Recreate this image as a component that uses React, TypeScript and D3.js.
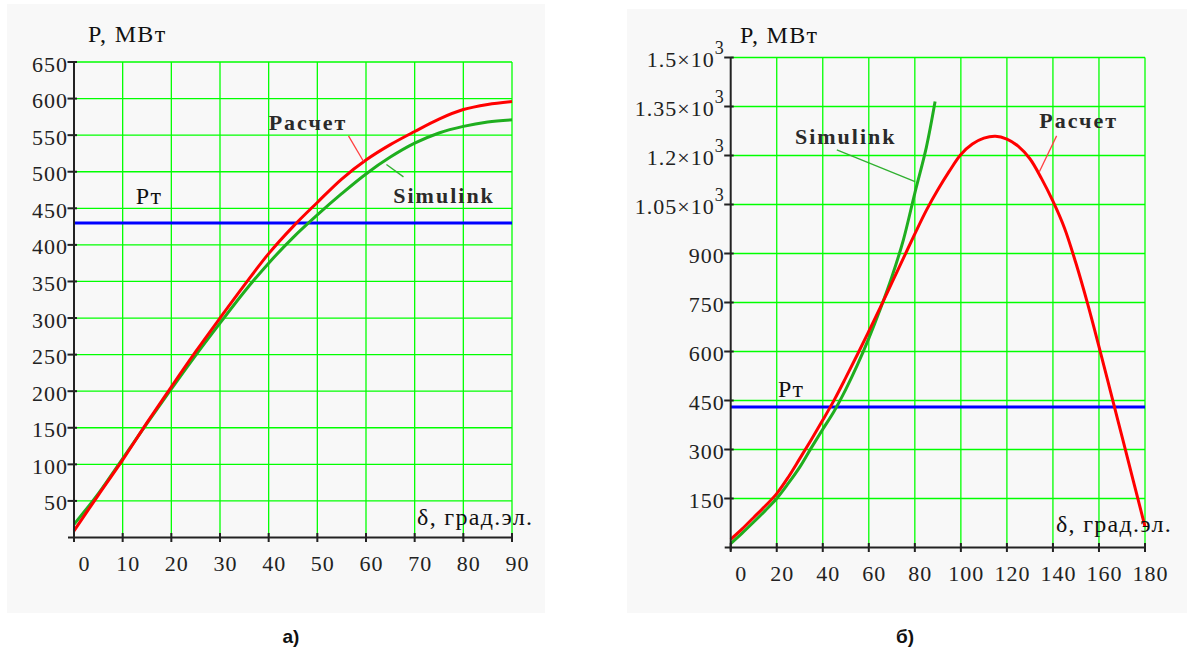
import React from 'react';
import * as d3 from 'd3';

// ---- panel а) : 0..90 deg
const degA = [0, 5, 10, 15, 20, 25, 30, 35, 40, 45, 50, 55, 60, 65, 70, 75, 80, 85, 90];
const calcA = [9, 58, 106, 157, 206, 254, 300, 345, 388, 425, 458, 490, 516, 537, 555, 572, 585, 592, 596];
const simA = [18, 60, 108, 156, 203, 249, 293, 336, 375, 410, 441, 470, 497, 520, 539, 553, 562, 568, 571];
const xTicksA = [0, 10, 20, 30, 40, 50, 60, 70, 80, 90];
const yTicksA = [50, 100, 150, 200, 250, 300, 350, 400, 450, 500, 550, 600, 650];

// ---- panel б) : 0..180 deg
const calcDegB = [0, 5, 10, 15, 20, 25, 30, 35, 40, 45, 50, 55, 60, 65, 70, 75, 80, 85, 90, 95, 100, 105, 110, 115, 120, 125, 130, 135, 140, 145, 150, 155, 160, 165, 170, 175, 180];
const calcB = [25, 57, 92, 127, 165, 215, 272, 330, 390, 452, 520, 590, 662, 735, 810, 885, 960, 1032, 1095, 1152, 1203, 1235, 1253, 1259, 1250, 1228, 1190, 1130, 1060, 978, 870, 748, 615, 478, 340, 202, 64];
const simDegB = [0, 5, 10, 15, 20, 25, 30, 35, 40, 45, 50, 55, 60, 65, 70, 75, 80, 85, 88.8];
const simB = [12, 44, 78, 113, 150, 196, 246, 305, 362, 418, 484, 558, 640, 730, 828, 941, 1085, 1225, 1365];
const xTicksB = [0, 20, 40, 60, 80, 100, 120, 140, 160, 180];
const yTicksB = [150, 300, 450, 600, 750, 900, 1050, 1200, 1350, 1500];

const PT = 430; // turbine power

// labels placed in data units [deg, MW]
const notesA = [
  { t: 'P, МВт', d: 2.9, p: 677, kind: 'title' },
  { t: 'δ, град.эл.', d: 70.5, p: 17, kind: 'title' },
  { t: 'Pт', d: 12.7, p: 456, kind: 'title' },
  { t: 'Расчет', d: 40, p: 557, kind: 'note' },
  { t: 'Simulink', d: 65.6, p: 457, kind: 'note' },
];
const leadersA = [
  { d1: 56.4, p1: 549, d2: 59.5, p2: 514, c: '#ff4040' },
  { d1: 67.7, p1: 493, d2: 64.2, p2: 510, c: '#30b030' },
];
const notesB = [
  { t: 'P, МВт', d: 4, p: 1545, kind: 'title' },
  { t: 'δ, град.эл.', d: 141.3, p: 48, kind: 'title' },
  { t: 'Pт', d: 20.5, p: 461, kind: 'title' },
  { t: 'Simulink', d: 27.9, p: 1235, kind: 'note' },
  { t: 'Расчет', d: 134.1, p: 1283, kind: 'note' },
];
const leadersB = [
  { d1: 46.1, p1: 1217, d2: 80.1, p2: 1120, c: '#30b030' },
  { d1: 141.6, p1: 1260, d2: 134.1, p2: 1150, c: '#ff4040' },
];

const SERIF = '"Liberation Serif", "Times New Roman", serif';

function Panel(props: any) {
  const { degs, calc, simDegs, sim, xTicks, yTicks, xRange, yRange, notes, leaders } = props;
  const xMax = xTicks[xTicks.length - 1];
  const yMax = yTicks[yTicks.length - 1];
  const x = d3.scaleLinear().domain([0, xMax]).range(xRange);
  const y = d3.scaleLinear().domain([0, yMax]).range(yRange);
  const line = d3
    .line<[number, number]>()
    .x((d) => x(d[0]))
    .y((d) => y(d[1]))
    .curve(d3.curveCatmullRom.alpha(0.5));
  const calcPts = degs.map((d: number, i: number) => [d, calc[i]] as [number, number]);
  const simPts = simDegs.map((d: number, i: number) => [d, sim[i]] as [number, number]);

  const yLabel = (v: number) => {
    if (v >= 1000) {
      return (
        <>
          <tspan>{`${v / 1000}×10`}</tspan>
          <tspan dy={-13} fontSize={18}>3</tspan>
        </>
      );
    }
    return String(v);
  };

  return (
    <g>
      {/* grid */}
      {xTicks.filter((t: number) => t > 0).map((t: number) => (
        <line key={'gx' + t} x1={x(t)} x2={x(t)} y1={y(0)} y2={y(yMax)} stroke="#00ff00" strokeWidth={1.3} />
      ))}
      {yTicks.map((t: number) => (
        <line key={'gy' + t} x1={x(0)} x2={x(xMax)} y1={y(t)} y2={y(t)} stroke="#00ff00" strokeWidth={1.3} />
      ))}
      {/* Pт */}
      <line x1={x(0)} x2={x(xMax)} y1={y(PT)} y2={y(PT)} stroke="#0000ff" strokeWidth={3} />
      {/* curves */}
      <path d={line(simPts) || ''} fill="none" stroke="#1fae1f" strokeWidth={3} />
      <path d={line(calcPts) || ''} fill="none" stroke="#ff0000" strokeWidth={3} />
      {/* axes */}
      <line x1={x(0) - 6} x2={x(xMax)} y1={y(0)} y2={y(0)} stroke="#222" strokeWidth={2} />
      <line x1={x(0)} x2={x(0)} y1={y(0) + 3} y2={y(yMax)} stroke="#222" strokeWidth={2} />
      {xTicks.map((t: number) => (
        <g key={'xt' + t}>
          <line x1={x(t)} x2={x(t)} y1={y(0) - 4.5} y2={y(0) + 4.5} stroke="#222" strokeWidth={2} />
          <text
            x={x(t) + 5.5 + (t === 0 ? 5 : 0)}
            y={y(0) + 33}
            textAnchor="middle"
            fontFamily={SERIF}
            fontSize={22}
            letterSpacing={1}
            fill="#222"
          >
            {t}
          </text>
        </g>
      ))}
      {yTicks.map((t: number) => (
        <g key={'yt' + t}>
          <line x1={x(0) - 6.5} x2={x(0) + 3} y1={y(t)} y2={y(t)} stroke="#222" strokeWidth={2} />
          <text
            x={x(0) - 6}
            y={y(t) + 9.5}
            textAnchor="end"
            fontFamily={SERIF}
            fontSize={22}
            letterSpacing={1}
            fill="#222"
          >
            {yLabel(t)}
          </text>
        </g>
      ))}
      {/* leaders & labels */}
      {leaders.map((l: any, i: number) => (
        <line key={'ld' + i} x1={x(l.d1)} y1={y(l.p1)} x2={x(l.d2)} y2={y(l.p2)} stroke={l.c} strokeWidth={1.3} />
      ))}
      {notes.map((n: any, i: number) => (
        <text
          key={'nt' + i}
          x={x(n.d)}
          y={y(n.p)}
          fontFamily={SERIF}
          fontSize={n.kind === 'note' ? 22 : 24}
          fontWeight={n.kind === 'note' ? 'bold' : 'normal'}
          letterSpacing={n.kind === 'note' ? 2 : 1.3}
          fill={n.kind === 'note' ? '#2a2a2a' : '#111'}
        >
          {n.t}
        </text>
      ))}
    </g>
  );
}

export default function App() {
  return (
    <svg
      width={1189}
      height={655}
      viewBox="0 0 1189 655"
      style={{ position: 'absolute', left: 0, top: 0, background: '#fff' }}
    >
      <rect x={7} y={4} width={538} height={609} fill="#f8f8f8" />
      <rect x={627} y={9} width={560} height={604} fill="#f8f8f8" />
      <Panel
        degs={degA}
        calc={calcA}
        simDegs={degA}
        sim={simA}
        xTicks={xTicksA}
        yTicks={yTicksA}
        xRange={[74, 512]}
        yRange={[537.5, 62]}
        notes={notesA}
        leaders={leadersA}
      />
      <Panel
        degs={calcDegB}
        calc={calcB}
        simDegs={simDegB}
        sim={simB}
        xTicks={xTicksB}
        yTicks={yTicksB}
        xRange={[730.7, 1145]}
        yRange={[547.5, 57.5]}
        notes={notesB}
        leaders={leadersB}
      />
      <text x={291} y={643} textAnchor="middle" fontFamily='"Liberation Sans", Arial, sans-serif' fontWeight="bold" fontSize={19} fill="#111">
        а)
      </text>
      <text x={905} y={643} textAnchor="middle" fontFamily='"Liberation Sans", Arial, sans-serif' fontWeight="bold" fontSize={19} fill="#111">
        б)
      </text>
    </svg>
  );
}
